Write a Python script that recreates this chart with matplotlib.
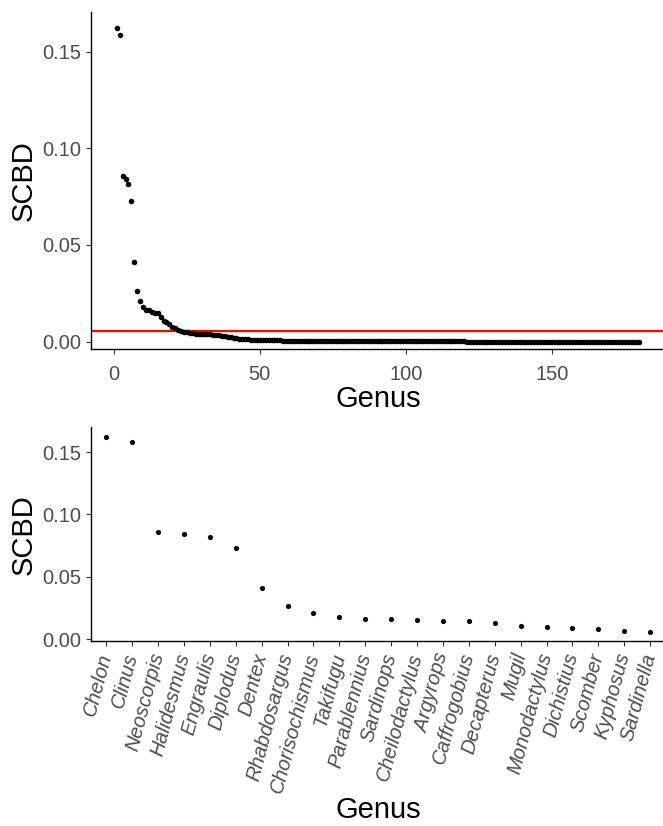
import numpy as np
import matplotlib
matplotlib.use("Agg")
import matplotlib.pyplot as plt
from matplotlib import rcParams

rcParams['font.family'] = ['Liberation Sans', 'DejaVu Sans']

# 前22个属（下图显示名称）
genus_top = ['Chelon', 'Clinus', 'Neoscorpis', 'Halidesmus', 'Engraulis', 'Diplodus',
             'Dentex', 'Rhabdosargus', 'Chorisochismus', 'Takifugu', 'Parablennius',
             'Sardinops', 'Cheilodactylus', 'Argyrops', 'Caffrogobius', 'Decapterus',
             'Mugil', 'Monodactylus', 'Dichistius', 'Scomber', 'Kyphosus', 'Sardinella']
scbd_top = [0.1624, 0.1584, 0.0859, 0.0843, 0.0817, 0.0729, 0.0410, 0.0264, 0.0210,
            0.0178, 0.0162, 0.0162, 0.0152, 0.0150, 0.0146, 0.0128, 0.0106, 0.0100,
            0.0090, 0.0078, 0.0068, 0.0058]

# 其余属（第23-180个）的SCBD值
scbd_rest = [0.0055, 0.0052, 0.0049, 0.0046, 0.0044, 0.0042, 0.0041, 0.0040,
             0.0039, 0.0038, 0.0037, 0.0036, 0.0034, 0.0032, 0.0029, 0.0027,
             0.0025, 0.0022, 0.0019, 0.0017, 0.0015, 0.0014, 0.0013, 0.0012,
             0.0011, 0.0010, 0.0009, 0.0009,
             0.0008, 0.0008, 0.0007, 0.0007, 0.0006, 0.0006, 0.0006, 0.0005,
             0.0005, 0.0005,
             0.00045, 0.00044, 0.00042, 0.00040, 0.00039, 0.00037, 0.00036, 0.00035,
             0.00034, 0.00033, 0.00032, 0.00031, 0.00030, 0.00029, 0.00028, 0.00027,
             0.00026, 0.00025, 0.00024, 0.00024,
             0.00023, 0.00022, 0.00022, 0.00021, 0.00020, 0.00020, 0.00019, 0.00019,
             0.00018, 0.00018, 0.00017, 0.00017, 0.00016, 0.00016, 0.00015, 0.00015,
             0.00014, 0.00014, 0.00014, 0.00013,
             0.00013, 0.00013, 0.00012, 0.00012, 0.00012, 0.00011, 0.00011, 0.00011,
             0.00010, 0.00010, 0.00010, 0.00010, 0.00009, 0.00009, 0.00009, 0.00009,
             0.00008, 0.00008, 0.00008, 0.00008,
             0.00007, 0.00007, 0.00007, 0.00007, 0.00007, 0.00007, 0.00007, 0.00007,
             0.00007, 0.00007, 0.00006, 0.00006, 0.00006, 0.00006, 0.00006, 0.00006,
             0.00006, 0.00006, 0.00006, 0.00006,
             0.00005, 0.00005, 0.00005, 0.00005, 0.00005, 0.00005, 0.00005, 0.00005,
             0.00005, 0.00005, 0.00004, 0.00004, 0.00004, 0.00004, 0.00004, 0.00004,
             0.00004, 0.00004, 0.00004, 0.00004,
             0.00003, 0.00003, 0.00003, 0.00003, 0.00003, 0.00003, 0.00003, 0.00003,
             0.00003, 0.00003, 0.00002, 0.00002, 0.00002, 0.00002, 0.00002, 0.00002,
             0.00001, 0.00001, 0.00001, 0.00001]

scbd_all = scbd_top + scbd_rest
idx_all = np.arange(1, len(scbd_all) + 1)
scbd_mean = np.mean(scbd_all)

TICK_COLOR = '#4D4D4D'


def style_axes(ax):
    ax.spines['top'].set_visible(False)
    ax.spines['right'].set_visible(False)
    for s in ['left', 'bottom']:
        ax.spines[s].set_linewidth(1.0)
        ax.spines[s].set_color('black')
    ax.tick_params(axis='both', colors='#333333', labelcolor=TICK_COLOR,
                   labelsize=14.5, length=3.5, width=0.8)


fig = plt.figure(figsize=(6.63, 8.26), dpi=100)

# 上图：所有属的SCBD
ax1 = fig.add_axes([0.1368, 0.5775, 0.8668, 0.4074])
ax1.scatter(idx_all, scbd_all, s=16, color='black', linewidths=0, zorder=3)
ax1.axhline(scbd_mean, color='red', linewidth=1.6, zorder=2)
ax1.set_xlim(-7.95, 188.95)
ax1.set_ylim(-0.0038, 0.1703)
ax1.set_xticks([0, 50, 100, 150])
ax1.set_yticks([0.00, 0.05, 0.10, 0.15])
ax1.set_yticklabels(['0.00', '0.05', '0.10', '0.15'])
style_axes(ax1)
ax1.tick_params(axis='x', pad=8)
ax1.set_xlabel('Genus', fontsize=21, labelpad=1)
ax1.set_ylabel('SCBD', fontsize=21, labelpad=3)

# 下图：SCBD高于均值的属
ax2 = fig.add_axes([0.1368, 0.2234, 0.8673, 0.2597])
pos = np.arange(1, len(genus_top) + 1)
ax2.scatter(pos, scbd_top, s=14, color='black', linewidths=0, zorder=3)
ax2.set_xlim(0.4, 22.6)
ax2.set_ylim(-0.0018, 0.1701)
ax2.set_yticks([0.00, 0.05, 0.10, 0.15])
ax2.set_yticklabels(['0.00', '0.05', '0.10', '0.15'])
ax2.set_xticks(pos)
ax2.set_xticklabels(genus_top, rotation=75, ha='right', va='center',
                    rotation_mode='anchor', style='italic')
style_axes(ax2)
ax2.tick_params(axis='x', pad=5)
ax2.set_xlabel('Genus', fontsize=21, labelpad=1)
ax2.set_ylabel('SCBD', fontsize=21, labelpad=3)

fig.savefig('out.png', dpi=100)
